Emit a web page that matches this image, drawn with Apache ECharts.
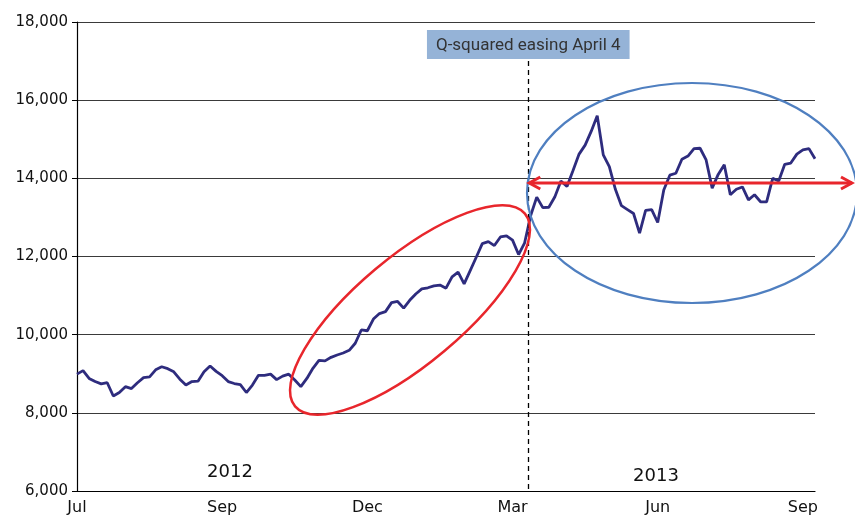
<!DOCTYPE html>
<html>
<head>
<meta charset="utf-8">
<script src="https://cdn.jsdelivr.net/npm/echarts@6/dist/echarts.min.js"></script>
<style>
  html, body { margin: 0; padding: 0; background: #fff; }
  #chart { width: 855px; height: 521px; }
</style>
</head>
<body>
<div id="chart"></div>
<script>
// x axis month labels, one every 24 points
var tickLabels = ['Jul', 'Sep', 'Dec', 'Mar', 'Jun', 'Sep'];
var tickEvery = 24;

// index level, Jul 2012 - Sep 2013
var nikkei = [
  8990, 9080, 8880, 8800, 8740, 8770, 8430, 8520, 8670, 8620,
  8770, 8900, 8920, 9100, 9180, 9130, 9050, 8860, 8710, 8800,
  8810, 9050, 9200, 9060, 8950, 8800, 8750, 8720, 8520, 8710,
  8960, 8960, 8990, 8850, 8940, 8990, 8840, 8670, 8880, 9140,
  9340, 9330, 9420, 9480, 9530, 9600, 9780, 10120, 10100, 10400,
  10540, 10590, 10820, 10850, 10680, 10880, 11040, 11170, 11200, 11250,
  11270, 11190, 11480, 11600, 11300, 11640, 11980, 12330, 12380, 12280,
  12500, 12530, 12420, 12050, 12350, 13050, 13520, 13250, 13260, 13530,
  13930, 13790, 14200, 14620, 14850, 15200, 15600, 14600, 14300, 13720,
  13300, 13200, 13100, 12600, 13180, 13200, 12870, 13700, 14080, 14130,
  14490, 14570, 14760, 14770, 14470, 13750, 14100, 14350, 13580, 13720,
  13780, 13450, 13580, 13400, 13400, 14000, 13930, 14360, 14390, 14620,
  14730, 14760, 14500
];

var qeIndex = 74.6;       // April 4 position
var qeTop = 17000;
var qeText = 'Q-squared easing April 4';
var rangeLevel = 13880;   // red arrow level
var years = ['2012', '2013'];

var chart = echarts.init(document.getElementById('chart'));

chart.setOption({
  animation: false,
  grid: { left: 77, right: 40, top: 22, bottom: 30 },
  xAxis: {
    type: 'value',
    min: 0,
    max: nikkei.length - 1,
    interval: tickEvery,
    splitLine: { show: false },
    axisTick: { show: false },
    axisLine: { lineStyle: { color: '#000', width: 1.2 } },
    axisLabel: {
      fontFamily: 'DejaVu Sans', fontSize: 16, color: '#111', margin: 9,
      formatter: function (v) { return tickLabels[v / tickEvery] || ''; }
    }
  },
  yAxis: {
    type: 'value',
    min: 6000,
    max: 18000,
    interval: 2000,
    axisLine: { show: true, lineStyle: { color: '#000', width: 1.2 } },
    axisTick: { show: true, length: 5, lineStyle: { color: '#000' } },
    splitLine: { lineStyle: { color: '#3a3a3a', width: 1 } },
    axisLabel: {
      fontFamily: 'DejaVu Sans', fontSize: 15, color: '#111', margin: 9,
      formatter: function (v) { return v.toLocaleString('en-US'); }
    }
  },
  series: [{
    type: 'line',
    data: nikkei.map(function (v, i) { return [i, v]; }),
    showSymbol: false,
    lineStyle: { color: '#2E2C7E', width: 2.8 },
    z: 3,
    markLine: {
      silent: true,
      symbol: 'none',
      lineStyle: { color: '#000', type: [5, 4], width: 1.3 },
      label: {
        show: true,
        position: 'start',
        distance: 2,
        formatter: qeText,
        fontFamily: 'Roboto',
        fontSize: 17,
        color: '#333',
        backgroundColor: '#95B3D7',
        padding: [7, 9, 5, 9]
      },
      data: [[{ coord: [qeIndex, qeTop] }, { coord: [qeIndex, 6000] }]]
    }
  }]
});

// annotations: ellipses, arrow, year labels
var a = chart.convertToPixel({ gridIndex: 0 }, [qeIndex, rangeLevel]);
var rightX = chart.getWidth() - 2;
var red = '#E8262C';

chart.setOption({
  graphic: [
    {
      type: 'ellipse', x: 410, y: 310, rotation: 40 * Math.PI / 180, z: 10,
      shape: { cx: 0, cy: 0, rx: 150, ry: 53.5 },
      style: { fill: 'transparent', stroke: red, lineWidth: 2.5 }
    },
    {
      type: 'ellipse', z: 10,
      shape: { cx: 692, cy: 193, rx: 165, ry: 110 },
      style: { fill: 'transparent', stroke: '#4F7FC0', lineWidth: 2.2 }
    },
    {
      type: 'line', z: 11,
      shape: { x1: a[0] + 1, y1: a[1], x2: rightX - 1, y2: a[1] },
      style: { stroke: red, lineWidth: 3 }
    },
    {
      type: 'polyline', z: 11,
      shape: { points: [[a[0] + 12, a[1] - 6], [a[0] + 1, a[1]], [a[0] + 12, a[1] + 6]] },
      style: { stroke: red, lineWidth: 3, fill: 'transparent' }
    },
    {
      type: 'polyline', z: 11,
      shape: { points: [[rightX - 12, a[1] - 6], [rightX - 1, a[1]], [rightX - 12, a[1] + 6]] },
      style: { stroke: red, lineWidth: 3, fill: 'transparent' }
    },
    {
      type: 'text', x: 230, y: 472, z: 10,
      style: { text: years[0], font: '18px "DejaVu Sans"', fill: '#111', align: 'center', verticalAlign: 'middle' }
    },
    {
      type: 'text', x: 656, y: 476, z: 10,
      style: { text: years[1], font: '18px "DejaVu Sans"', fill: '#111', align: 'center', verticalAlign: 'middle' }
    }
  ]
});
</script>
</body>
</html>
